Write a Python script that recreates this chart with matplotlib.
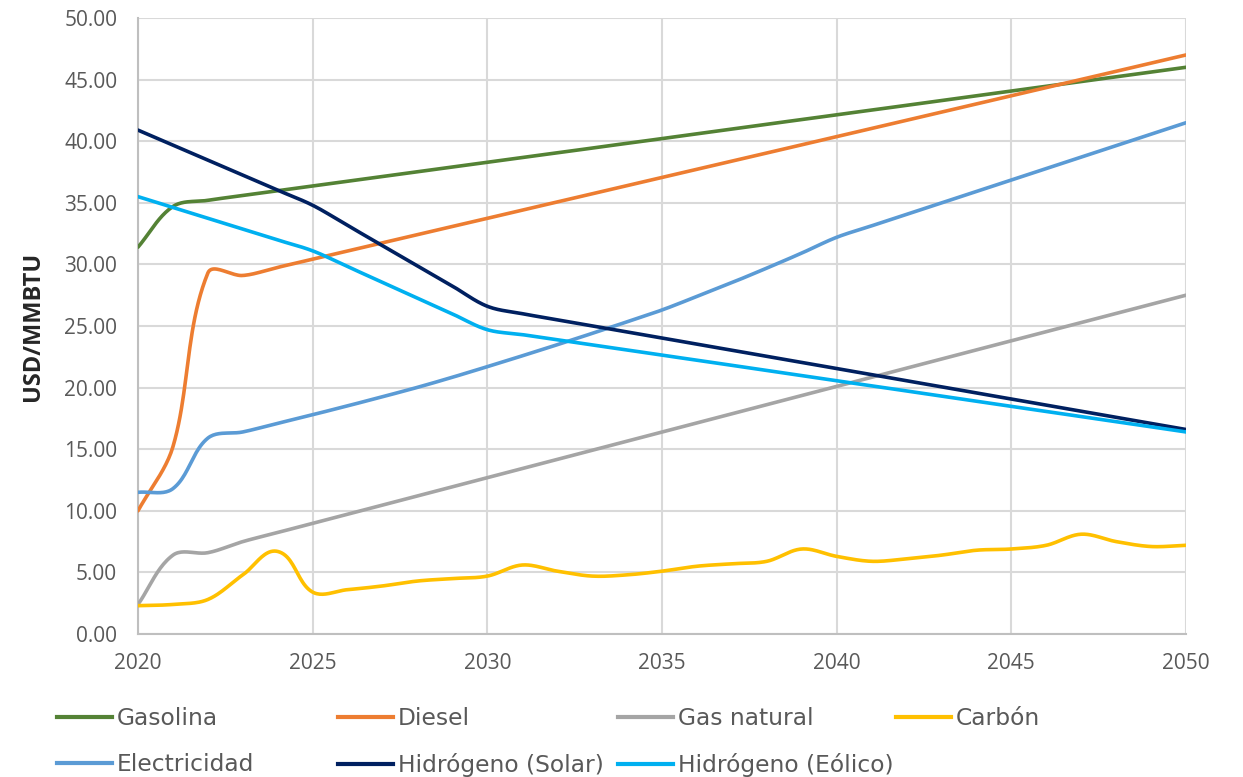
import matplotlib
matplotlib.use("Agg")
import matplotlib.pyplot as plt
import numpy as np
from matplotlib.lines import Line2D

# yearly projections, USD/MMBTU
years = list(range(2020, 2051))

gasolina = [31.40, 34.70, 35.20, 35.59, 35.97, 36.36, 36.74, 37.13, 37.51, 37.90, 38.29,
            38.67, 39.06, 39.44, 39.83, 40.21, 40.60, 40.99, 41.37, 41.76, 42.14,
            42.53, 42.91, 43.30, 43.69, 44.07, 44.46, 44.84, 45.23, 45.61, 46.00]
diesel = [10.00, 15.20, 29.30, 29.10, 29.76, 30.43, 31.09, 31.75, 32.41, 33.08, 33.74,
          34.40, 35.07, 35.73, 36.39, 37.06, 37.72, 38.38, 39.04, 39.71, 40.37,
          41.03, 41.70, 42.36, 43.02, 43.69, 44.35, 45.01, 45.67, 46.34, 47.00]
gas_natural = [2.40, 6.40, 6.60, 7.50, 8.24, 8.98, 9.72, 10.46, 11.20, 11.94, 12.69,
               13.43, 14.17, 14.91, 15.65, 16.39, 17.13, 17.87, 18.61, 19.35, 20.09,
               20.83, 21.57, 22.31, 23.06, 23.80, 24.54, 25.28, 26.02, 26.76, 27.50]
carbon = [2.3, 2.4, 2.8, 4.8, 6.7, 3.4, 3.6, 3.9, 4.3, 4.5, 4.7,
          5.6, 5.1, 4.7, 4.8, 5.1, 5.5, 5.7, 5.9, 6.9, 6.3,
          5.9, 6.1, 6.4, 6.8, 6.9, 7.2, 8.1, 7.5, 7.1, 7.2]
electricidad = [11.50, 11.80, 15.90, 16.40, 17.10, 17.80, 18.52, 19.26, 20.02, 20.84, 21.70,
                22.58, 23.48, 24.40, 25.34, 26.30, 27.40, 28.52, 29.70, 30.92, 32.20,
                33.13, 34.06, 34.99, 35.92, 36.85, 37.78, 38.71, 39.64, 40.57, 41.50]
h2_solar = [40.90, 39.68, 38.46, 37.24, 36.02, 34.80, 33.16, 31.52, 29.88, 28.24, 26.60,
            26.00, 25.51, 25.01, 24.52, 24.02, 23.53, 23.03, 22.54, 22.04, 21.55,
            21.05, 20.56, 20.06, 19.57, 19.07, 18.58, 18.08, 17.59, 17.09, 16.60]
h2_eolico = [35.50, 34.62, 33.74, 32.86, 31.98, 31.10, 29.82, 28.54, 27.26, 25.98, 24.70,
             24.30, 23.88, 23.47, 23.05, 22.64, 22.22, 21.81, 21.39, 20.97, 20.56,
             20.14, 19.73, 19.31, 18.89, 18.48, 18.06, 17.65, 17.23, 16.82, 16.40]

series = [
    ("Gasolina", gasolina, "#548235"),
    ("Diesel", diesel, "#ED7D31"),
    ("Gas natural", gas_natural, "#A5A5A5"),
    ("Carbón", carbon, "#FFC000"),
    ("Electricidad", electricidad, "#5B9BD5"),
    ("Hidrógeno (Solar)", h2_solar, "#002060"),
    ("Hidrógeno (Eólico)", h2_eolico, "#00B0F0"),
]


def smooth(x, y, sx=34.93, sy=12.32, n=24):
    # bezier "smoothed line": tangent follows the neighbours, handle length is a
    # third of each segment (worked out in screen-like units so steep jumps don't overshoot)
    p = np.column_stack([np.asarray(x, float) * sx, np.asarray(y, float) * sy])
    m = len(p)
    tang = np.empty_like(p)
    tang[0] = p[1] - p[0]
    tang[-1] = p[-1] - p[-2]
    tang[1:-1] = p[2:] - p[:-2]
    tang /= np.linalg.norm(tang, axis=1)[:, None]
    t = np.linspace(0, 1, n)[:, None]
    out = []
    for i in range(m - 1):
        p1, p2 = p[i], p[i + 1]
        seg_len = np.linalg.norm(p2 - p1)
        c1 = p1 + tang[i] * seg_len / 3
        c2 = p2 - tang[i + 1] * seg_len / 3
        seg = ((1 - t) ** 3) * p1 + 3 * ((1 - t) ** 2) * t * c1 \
            + 3 * (1 - t) * t ** 2 * c2 + t ** 3 * p2
        out.append(seg if i == 0 else seg[1:])
    out = np.vstack(out)
    return out[:, 0] / sx, out[:, 1] / sy


fig = plt.figure(figsize=(12.43, 7.77), dpi=100)
ax = fig.add_axes([138 / 1243, 1 - 634 / 777, (1186 - 138) / 1243, (634 - 18) / 777])

for name, vals, color in series:
    sx, sy = smooth(years, vals)
    ax.plot(sx, sy, color=color, lw=2.6, solid_capstyle="round", zorder=3)

ax.set_xlim(2020, 2050)
ax.set_ylim(0, 50)
ax.set_xticks(range(2020, 2051, 5))
ax.set_yticks(np.arange(0, 50.1, 5))
ax.set_yticklabels([f"{v:.2f}" for v in np.arange(0, 50.1, 5)])

ax.grid(True, color="#D9D9D9", lw=1.5, zorder=0)
for s in ["top", "right"]:
    ax.spines[s].set_visible(False)
for s in ["left", "bottom"]:
    ax.spines[s].set_color("#BFBFBF")
    ax.spines[s].set_linewidth(1.5)

ax.tick_params(axis="both", length=0, labelsize=15, labelcolor="#595959")
ax.tick_params(axis="x", pad=14)
ax.tick_params(axis="y", pad=15)
for lab in ax.get_xticklabels() + ax.get_yticklabels():
    lab.set_family("Open Sans")

ax.set_ylabel("USD/MMBTU", fontsize=17, fontweight="bold", family="Open Sans",
              color="#262626", labelpad=14)

# legend: four columns, two rows
handles = [Line2D([], [], color=c, lw=3) for _, _, c in series]
labels = [n for n, _, _ in series]
columns = [[0, 4], [1, 5], [2, 6], [3]]
col_x = [57, 338, 618, 896]
for cx, idx in zip(col_x, columns):
    leg = fig.legend([handles[i] for i in idx], [labels[i] for i in idx],
                     loc="upper left", bbox_to_anchor=(cx / 1243, 1 - 707 / 777),
                     frameon=False, borderpad=0, borderaxespad=0,
                     handlelength=2.35, handletextpad=0.22, labelspacing=1.0,
                     prop={"family": "DejaVu Sans", "size": 16.8})
    for txt in leg.get_texts():
        txt.set_color("#595959")

fig.savefig("out.png", dpi=100)
